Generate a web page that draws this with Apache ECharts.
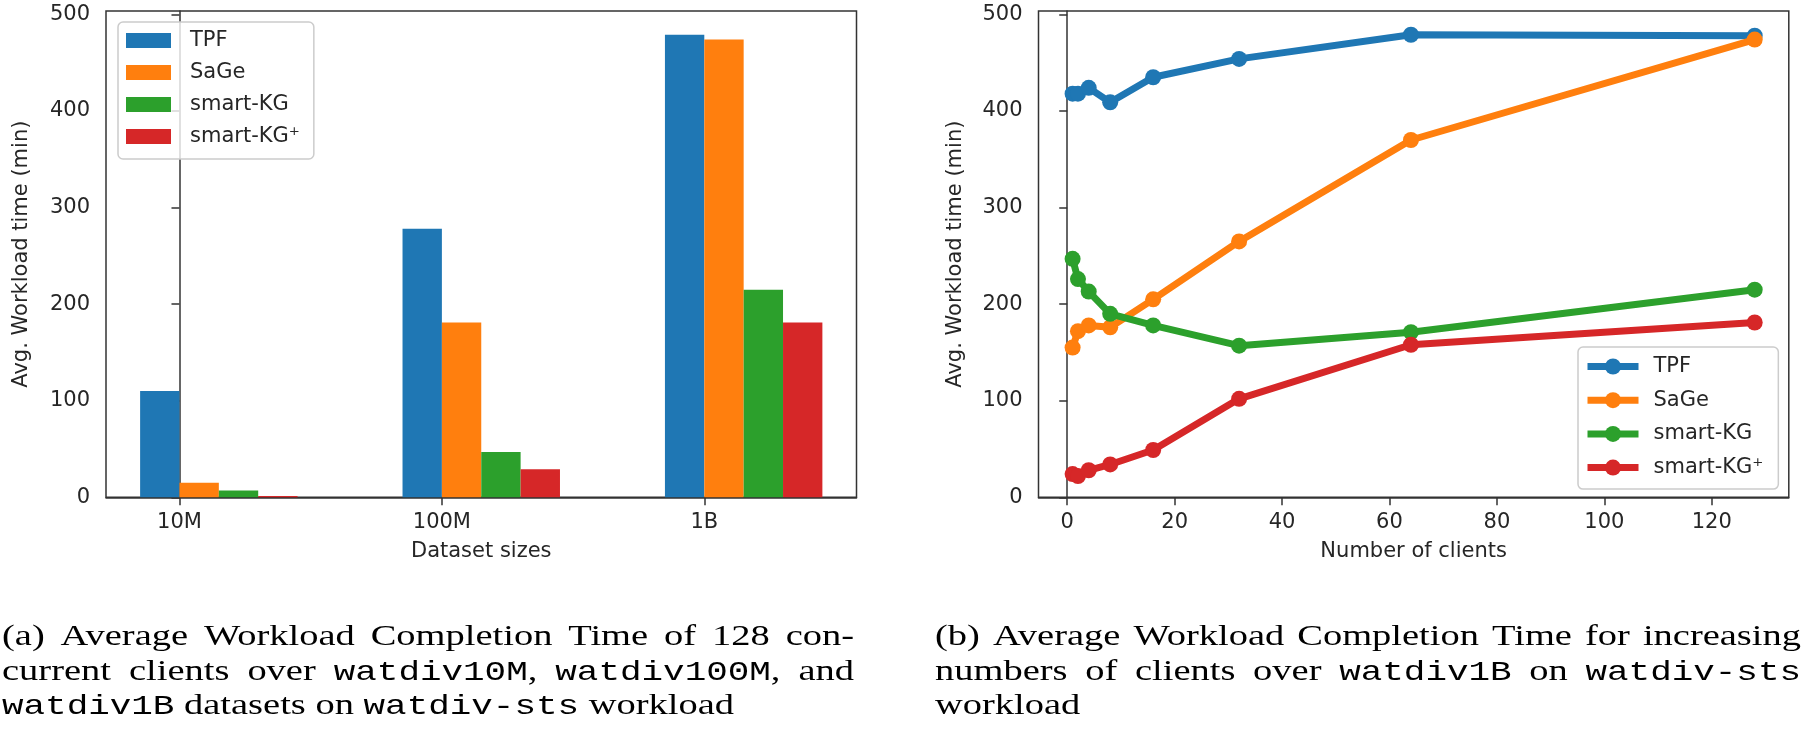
<!DOCTYPE html>
<html>
<head>
<meta charset="utf-8">
<script src="https://cdn.jsdelivr.net/npm/echarts@6/dist/echarts.min.js"></script>
<style>
html,body{margin:0;padding:0;background:#fff;}
#chart{width:1805px;height:730px;}
</style>
</head>
<body>
<div id="chart"></div>
<script>
// ---------------- data ----------------
const categories = ['10M', '100M', '1B'];
const seriesNames = ['TPF', 'SaGe', 'smart-KG', 'smart-KG⁺'];
const barTPF  = [110, 278, 479];
const barSaGe = [15, 181, 474];
const barKG   = [7, 47, 215];
const barKGp  = [1.3, 29, 181];

const clients  = [1, 2, 4, 8, 16, 32, 64, 128];
const lineTPF  = [418, 418, 424, 409, 435, 454, 479, 478];
const lineSaGe = [155, 172, 178, 176, 205, 265, 370, 474];
const lineKG   = [247, 226, 213, 190, 178, 157, 171, 215];
const lineKGp  = [24, 22, 28, 34, 49, 102, 158, 181];

const yTicks = [0, 100, 200, 300, 400, 500];
const clientTicks = [0, 20, 40, 60, 80, 100, 120];
const catTicks = [0, 1, 2];

const captionA = [
  '(a) Average Workload Completion Time of 128 con-',
  'current clients over `watdiv10M`, `watdiv100M`, and',
  '`watdiv1B` datasets on `watdiv-sts` workload'
];
const captionB = [
  '(b) Average Workload Completion Time for increasing',
  'numbers of clients over `watdiv1B` on `watdiv-sts`',
  'workload'
];

// ---------------- style / layout ----------------
const colors = ['#1f77b4', '#ff7f0e', '#2ca02c', '#d62728'];
const FONT = '"DejaVu Sans", sans-serif';
const axisColor = '#333333';
const textColor = '#262626';
const gridA = {left: 106, top: 11, width: 750.5, height: 486.3};
const gridB = {left: 1038.5, top: 11, width: 750.3, height: 486.3};
const xAmin = -0.28, xAmax = 2.58;
const xBmin = -5.35, xBmax = 134.35;
const yMax = 503.6;
const barUnit = 0.15;
const barPx = gridA.width * barUnit / (xAmax - xAmin);
const lineW = 7, markerSize = 16;

function yAxis(gi, gap) {
  return {
    type: 'value', gridIndex: gi, min: 0, max: yMax,
    axisLine: {show: true, lineStyle: {color: axisColor, width: 1.5}},
    axisTick: {show: true, length: 8, customValues: yTicks, lineStyle: {color: axisColor, width: 1.5}},
    axisLabel: {customValues: yTicks, fontSize: 21, color: textColor, fontFamily: FONT, margin: 16},
    splitLine: {show: false},
    name: 'Avg. Workload time (min)', nameLocation: 'middle', nameGap: gap,
    nameTextStyle: {fontSize: 21, color: textColor, fontFamily: FONT}
  };
}

const barData = [barTPF, barSaGe, barKG, barKGp];
const lineData = [lineTPF, lineSaGe, lineKG, lineKGp];
const ZW = '\u200b';

const series = [];
barData.forEach((vals, k) => {
  const off = (k - 0.5) * barUnit;
  series.push({
    type: 'bar', name: seriesNames[k], xAxisIndex: 0, yAxisIndex: 0,
    barWidth: barPx, barGap: '-100%',
    itemStyle: {color: colors[k]},
    data: vals.map((v, i) => [i + off, v])
  });
});
lineData.forEach((vals, k) => {
  series.push({
    type: 'line', name: seriesNames[k] + ZW, xAxisIndex: 1, yAxisIndex: 1,
    symbol: 'circle', symbolSize: markerSize, showAllSymbol: true,
    lineStyle: {color: colors[k], width: lineW},
    itemStyle: {color: colors[k]},
    data: clients.map((c, i) => [c, vals[i]])
  });
});

// ---------------- caption (justified text) ----------------
const SERIF = '"Liberation Serif", "Times New Roman", serif';
const MONO = '"Liberation Mono", "Courier New", monospace';
const serifSize = 30, monoSize = 28;
const mctx = document.createElement('canvas').getContext('2d');
function fontOf(m) { return m ? (monoSize + 'px ' + MONO) : (serifSize + 'px ' + SERIF); }
function measure(t, m) { mctx.font = fontOf(m); mctx.textBaseline = 'middle'; return mctx.measureText(t); }
function midToBaseline(t, m) {
  const mt = measure(t, m);
  if (typeof mt.alphabeticBaseline === 'number' && mt.alphabeticBaseline !== 0) {
    return Math.abs(mt.alphabeticBaseline);
  }
  return (mt.fontBoundingBoxAscent - mt.fontBoundingBoxDescent) / 2;
}
function parseWord(w) {
  const parts = w.split('`');
  const segs = [];
  parts.forEach((p, i) => { if (p.length) segs.push({t: p, m: i % 2 === 1}); });
  return segs;
}
function parseLine(l) { return l.split(' ').map(parseWord); }
function wordW(segs) { return segs.reduce((a, s) => a + measure(s.t, s.m).width, 0); }
const spaceW = measure(' ', false).width;
function lineNatural(l) {
  const ws = parseLine(l);
  return ws.reduce((a, w) => a + wordW(w), 0) + spaceW * (ws.length - 1);
}
const capScale = (734 - 2) / lineNatural(captionA[2]);
const baselines = [645, 680, 714];

function buildCaption(lines, x0, x1) {
  const children = [];
  const colW = (x1 - x0) / capScale;
  lines.forEach((l, li) => {
    const ws = parseLine(l);
    const justify = li < lines.length - 1;
    const total = ws.reduce((a, w) => a + wordW(w), 0);
    const gap = justify ? (colW - total) / (ws.length - 1) : spaceW;
    let x = 0;
    ws.forEach(w => {
      w.forEach(s => {
        const mt = measure(s.t, s.m);
        const mid = midToBaseline(s.t, s.m);
        children.push({
          type: 'text', x: x, y: baselines[li] - mid,
          style: {text: s.t, font: fontOf(s.m), fill: '#000', verticalAlign: 'middle', align: 'left'}
        });
        x += mt.width;
      });
      x += gap;
    });
  });
  return {type: 'group', x: x0, y: 0, scaleX: capScale, scaleY: 1, children: children};
}

// ---------------- option ----------------
const legendCommon = {
  orient: 'vertical', backgroundColor: 'rgba(255,255,255,0.8)',
  borderColor: '#cccccc', borderWidth: 1.5, borderRadius: 5
};

const option = {
  animation: false,
  backgroundColor: '#ffffff',
  textStyle: {fontFamily: FONT},
  grid: [
    Object.assign({show: true, borderColor: axisColor, borderWidth: 1.5, containLabel: false}, gridA),
    Object.assign({show: true, borderColor: axisColor, borderWidth: 1.5, containLabel: false}, gridB)
  ],
  xAxis: [
    {
      type: 'value', gridIndex: 0, min: xAmin, max: xAmax,
      axisLine: {show: true, onZero: false, lineStyle: {color: axisColor, width: 1.5}},
      axisTick: {show: true, length: 8, customValues: catTicks, lineStyle: {color: axisColor, width: 1.5}},
      axisLabel: {customValues: catTicks, formatter: v => categories[Math.round(v)],
                  fontSize: 21, color: textColor, fontFamily: FONT, margin: 15},
      splitLine: {show: false},
      name: 'Dataset sizes', nameLocation: 'middle', nameGap: 44,
      nameTextStyle: {fontSize: 21, color: textColor, fontFamily: FONT}
    },
    {
      type: 'value', gridIndex: 1, min: xBmin, max: xBmax,
      axisLine: {show: true, onZero: false, lineStyle: {color: axisColor, width: 1.5}},
      axisTick: {show: true, length: 8, customValues: clientTicks, lineStyle: {color: axisColor, width: 1.5}},
      axisLabel: {customValues: clientTicks, fontSize: 21, color: textColor, fontFamily: FONT, margin: 15},
      splitLine: {show: false},
      name: 'Number of clients', nameLocation: 'middle', nameGap: 44,
      nameTextStyle: {fontSize: 21, color: textColor, fontFamily: FONT}
    }
  ],
  yAxis: [yAxis(0, 74), yAxis(1, 72)],
  legend: [
    Object.assign({}, legendCommon, {
      left: 118, top: 22, padding: [8, 14, 12, 8],
      itemWidth: 45, itemHeight: 15, itemGap: 11, icon: 'rect',
      data: seriesNames,
      textStyle: {fontSize: 21, lineHeight: 21, color: textColor, fontFamily: FONT, padding: [0, 0, 0, 14]}
    }),
    Object.assign({}, legendCommon, {
      left: 1578, top: 347, padding: [9, 15, 11, 6],
      itemWidth: 51, itemHeight: 20, itemGap: 12.7,
      lineStyle: {width: lineW},
      data: seriesNames.map(n => n + ZW),
      formatter: n => n.replace(ZW, ''),
      textStyle: {fontSize: 21, lineHeight: 20, color: textColor, fontFamily: FONT, padding: [0, 0, 0, 10]}
    })
  ],
  series: series,
  graphic: [
    buildCaption(captionA, 2, 854),
    buildCaption(captionB, 935, 1801)
  ]
};

const chart = echarts.init(document.getElementById('chart'), null, {renderer: 'canvas'});
chart.setOption(option);
</script>
</body>
</html>
